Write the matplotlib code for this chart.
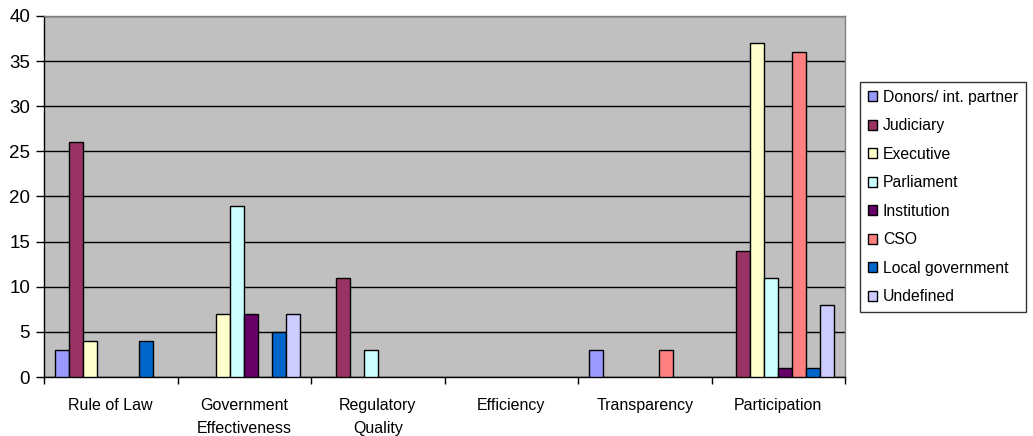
import numpy as np
import matplotlib.pyplot as plt
from matplotlib.ticker import FixedLocator, NullFormatter

plt.rcParams['font.family'] = ['Liberation Sans', 'DejaVu Sans']

categories = ["Rule of Law", "Government\nEffectiveness", "Regulatory\nQuality",
              "Efficiency", "Transparency", "Participation"]
series_names = ["Donors/ int. partner", "Judiciary", "Executive", "Parliament",
                "Institution", "CSO", "Local government", "Undefined"]

donors     = [3, 0, 0, 0, 3, 0]
judiciary  = [26, 0, 11, 0, 0, 14]
executive  = [4, 7, 0, 0, 0, 37]
parliament = [0, 19, 3, 0, 0, 11]
institution = [0, 7, 0, 0, 0, 1]
cso        = [0, 0, 0, 0, 3, 36]
local_gov  = [4, 5, 0, 0, 0, 1]
undefined  = [0, 7, 0, 0, 0, 8]

series_values = [donors, judiciary, executive, parliament,
                 institution, cso, local_gov, undefined]
colors = ["#9999FF", "#993366", "#FFFFCC", "#CCFFFF",
          "#660066", "#FF8080", "#0066CC", "#CCCCFF"]

W, H = 1033, 436
fig = plt.figure(figsize=(W / 100, H / 100), dpi=100)
ax = fig.add_axes([44 / W, (H - 377) / H, (845 - 44) / W, (377 - 16) / H])
ax.set_facecolor("#C0C0C0")

n = len(series_names)
gap = 1.5
bw = 1.0 / (n + gap)
x = np.arange(len(categories))
for i, (name, vals, c) in enumerate(zip(series_names, series_values, colors)):
    offs = -0.5 + bw * (gap / 2 + i + 0.5)
    v = np.array(vals, dtype=float)
    mask = v > 0
    ax.bar(x[mask] + offs, v[mask], width=bw, color=c, edgecolor="black",
           linewidth=1.0, zorder=3)
    ax.bar([np.nan], [0], width=bw, color=c, edgecolor="black", linewidth=1.0,
           label=name)

ax.set_xlim(-0.5, len(categories) - 0.5)
ax.set_ylim(0, 40)
ax.set_yticks(np.arange(0, 41, 5))
ax.yaxis.grid(True, color="black", linewidth=1.0, zorder=1)
ax.set_axisbelow(True)

ax.set_xticks(x)
ax.set_xticklabels(categories, fontsize=11.5, linespacing=1.66)
ax.xaxis.set_minor_locator(FixedLocator(np.arange(-0.5, len(categories), 1.0)))
ax.xaxis.set_minor_formatter(NullFormatter())
ax.tick_params(axis="x", which="major", length=0, pad=15)
ax.tick_params(axis="x", which="minor", length=5, width=1, direction="out")
ax.tick_params(axis="y", length=6, width=1, direction="out", labelsize=13.5, pad=4)

for s in ("left", "bottom"):
    ax.spines[s].set_color("black")
    ax.spines[s].set_linewidth(1.0)
for s in ("top", "right"):
    ax.spines[s].set_color("#808080")
    ax.spines[s].set_linewidth(1.0)

leg = ax.legend(loc="upper left", bbox_to_anchor=(860 / W, (H - 82) / H),
                bbox_transform=fig.transFigure, frameon=True, fancybox=False,
                edgecolor="black", fontsize=11.3, handlelength=0.6,
                handleheight=0.6, handletextpad=0.35, labelspacing=0.86,
                borderpad=0.5, borderaxespad=0)
leg.get_frame().set_linewidth(1.0)

fig.savefig("out.png", dpi=100, facecolor="white")
